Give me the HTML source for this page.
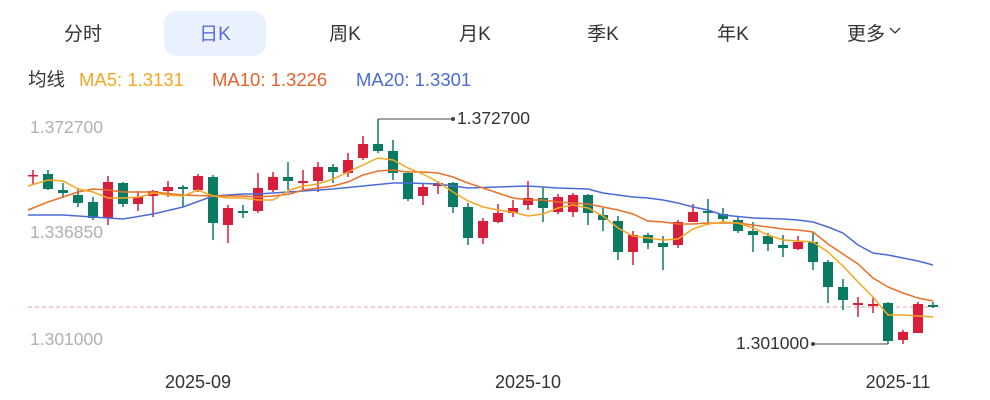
<!DOCTYPE html>
<html><head><meta charset="utf-8"><style>
html,body{margin:0;padding:0;background:#fff;width:990px;height:400px;overflow:hidden}
svg{display:block}
</style></head><body>
<svg width="990" height="400" xmlns="http://www.w3.org/2000/svg" font-family="Liberation Sans, Noto Sans CJK SC, sans-serif">
<rect x="164" y="11" width="102" height="45" rx="13" fill="#e8f1fd"/>
<g font-size="19" fill="#333" text-anchor="middle">
<text x="83" y="40">分时</text>
<text x="215" y="40" fill="#5a6fd6">日K</text>
<text x="345" y="40">周K</text>
<text x="475" y="40">月K</text>
<text x="603" y="40">季K</text>
<text x="733" y="40">年K</text>
<text x="866" y="40">更多</text>
</g>
<path d="M890 28 l5 5 l5 -5" fill="none" stroke="#333" stroke-width="1.3"/>
<g font-size="18.5">
<text x="28" y="86" fill="#333">均线</text>
<text x="79" y="86" fill="#f5a623">MA5: 1.3131</text>
<text x="212" y="86" fill="#e8612c">MA10: 1.3226</text>
<text x="356" y="86" fill="#4a6cd8">MA20: 1.3301</text>
</g>
<g font-size="17.5" fill="#b0b0b0">
<text x="30" y="133">1.372700</text>
<text x="30" y="238">1.336850</text>
<text x="30" y="345">1.301000</text>
</g>
<g font-size="18" fill="#333" text-anchor="middle">
<text x="198" y="388">2025-09</text>
<text x="528" y="388">2025-10</text>
<text x="898" y="388">2025-11</text>
</g>
<line x1="28" y1="307" x2="940" y2="307" stroke="#e8a0a0" stroke-dasharray="4,3" stroke-width="1"/>
<g id="c"></g>
<polyline fill="none" stroke="#4a6cd8" stroke-width="1.5" points="28,215 63,215 93,217 108,218 123,219 153,214 183,207 213,196 243,194 258,194 273,193 303,191 333,189 363,186 393,183 408,183 438,184 468,188 498,187 528,186 558,188 588,189 603,193 618,195 633,197 648,198 663,200 678,203 693,207 708,210 723,215 753,218 783,219 798,220 813,222 828,227 843,233 858,245 873,253 888,255 903,258 918,261 933,265"/>
<polyline fill="none" stroke="#e8702a" stroke-width="1.5" points="28,210 48,202 63,197 78,192 93,189 108,190 123,192 153,192 183,195 213,196 243,196 258,197 273,196 290,194 303,190 318,188 333,186 348,182 363,175 378,171 393,170 408,172 423,172 438,173 453,177 468,183 483,188 498,193 513,198 528,200 543,200 558,202 573,203 588,204 603,207 618,210 633,214 648,221 663,222 678,224 693,224 708,223 723,223 738,223 753,225 768,227 783,229 798,230 813,232 828,244 843,254 858,264 873,278 888,287 903,293 918,298 933,301"/>
<polyline fill="none" stroke="#f5a623" stroke-width="1.5" points="28,186 48,180 63,181 78,189 93,192 108,198 123,198 140,197 153,193 168,195 183,196 198,190 213,196 228,198 243,198 258,200 273,200 290,190 303,186 318,184 333,179 348,172 363,165 378,158 393,160 408,168 423,174 438,182 453,192 468,201 483,207 498,210 513,212 528,216 543,214 558,208 573,205 588,208 603,216 618,228 633,236 648,238 663,240 678,239 693,229 708,224 723,222 738,223 753,228 768,235 783,240 798,241 813,242 828,252 843,266 858,282 873,297 888,315 903,315 918,316 933,317"/>
<path d="M378 119 H453" stroke="#444" fill="none"/><circle cx="453" cy="119" r="2" fill="#444"/>
<text x="457" y="124" font-size="17.5" fill="#333">1.372700</text>
<path d="M888 344 H813" stroke="#444" fill="none"/><circle cx="813" cy="344" r="2" fill="#444"/>
<text x="809" y="349" font-size="17.5" fill="#333" text-anchor="end">1.301000</text>
</svg>
<script>
var d=[
["r",175,176,170,185],["g",174,189,170,190],["g",190,193,183,198],["g",195,203,188,207],["g",202,218,197,220],
["r",182,218,176,225],["g",183,204,182,207],["r",197,204,191,211],["r",191,196,190,217],["r",187,191,181,197],
["g",187,189,185,207],["r",176,190,174,192],["g",177,223,175,240],["r",208,225,205,243],["g",211,213,205,218],
["r",188,211,173,213],["r",177,190,172,192],["g",177,181,162,190],["r",181,183,170,190],["r",167,181,162,192],
["g",167,172,164,183],["r",160,173,153,177],["r",144,158,136,160],["g",144,151,119,153],["g",151,173,140,180],
["g",173,199,172,201],["r",187,196,183,205],["r",183,186,181,194],["g",183,207,182,213],["g",207,238,203,245],
["r",221,238,218,244],["r",213,222,204,223],["r",208,213,200,217],["r",198,205,181,210],["g",198,208,187,222],
["r",197,212,194,214],["r",195,212,193,217],["g",195,213,194,225],["g",215,220,208,231],["g",221,252,216,260],
["r",235,252,231,265],["g",235,243,233,249],["g",243,247,236,270],["r",222,245,220,248],["r",212,222,204,222],
["g",211,213,199,225],["g",214,219,208,222],["g",220,231,216,233],["g",231,235,222,252],["g",236,244,233,251],
["g",245,248,235,257],["r",242,249,236,250],["g",242,262,232,270],["g",262,287,260,303],["g",287,300,279,310],
["r",303,305,297,317],["r",304,306,298,313],["g",303,341,302,344],["r",332,340,330,344],["r",304,333,302,333],
["g",305,307,302,308]];
var s="";
d.forEach(function(c,i){var x=33+i*15,col=c[0]=="r"?"#d81e3a":"#0b7a62";
var h=Math.max(c[2]-c[1],1.5);
s+='<line x1="'+x+'" x2="'+x+'" y1="'+c[3]+'" y2="'+c[4]+'" stroke="'+col+'" stroke-width="1.5"/>';
s+='<rect x="'+(x-5)+'" y="'+c[1]+'" width="10" height="'+h+'" fill="'+col+'"/>';});
document.getElementById("c").innerHTML=s;
</script>
</body></html>
